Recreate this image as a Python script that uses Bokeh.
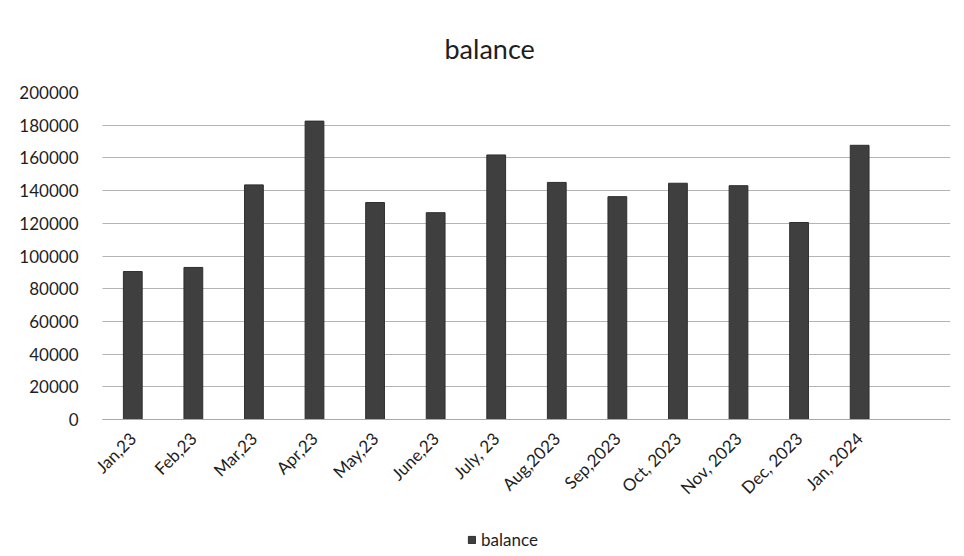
import math
from bokeh.plotting import figure
from bokeh.models import (ColumnDataSource, Range1d, FixedTicker, Legend, LegendItem)
from bokeh.embed import file_html
from bokeh.resources import INLINE

# ---- data ----
categories = ["Jan,23", "Feb,23", "Mar,23", "Apr,23", "May,23", "June,23", "July, 23",
              "Aug,2023", "Sep,2023", "Oct, 2023", "Nov, 2023", "Dec, 2023", "Jan, 2024"]
balance = [90500, 93000, 143500, 182500, 132700, 126500, 161800,
           145000, 136300, 144500, 143000, 120500, 167700]
y_ticks = [0, 20000, 40000, 60000, 80000, 100000, 120000, 140000, 160000, 180000, 200000]
n_slots = 14  # the source chart keeps one empty category slot on the right

positions = [i + 0.5 for i in range(len(categories))]
src = ColumnDataSource(dict(x=positions, top=balance, cat=categories))

FONT = "Lato"

# layout in pixels: value axis 200000 at y=92, 0 at y=419; the frame reaches
# down to y=552 so the category labels and the legend sit inside it.
# Plot area (gridlines) spans x=102..950; the frame starts a little further left
# so the first rotated label is not clipped.
TOP_PX, ZERO_PX, BOTTOM_PX = 92, 419, 552
AREA_L, AREA_R, FRAME_L = 102, 950, 84
y_max = max(y_ticks)
y_min = -(BOTTOM_PX - ZERO_PX) * y_max / (ZERO_PX - TOP_PX)
x_min = -(AREA_L - FRAME_L) * n_slots / (AREA_R - AREA_L)

p = figure(width=964, height=556, output_backend="svg", toolbar_location=None,
           x_range=Range1d(x_min, n_slots), y_range=Range1d(y_min, y_max),
           min_border_left=FRAME_L, min_border_right=964 - AREA_R, min_border_top=TOP_PX,
           min_border_bottom=556 - BOTTOM_PX)
p.outline_line_color = None
p.background_fill_color = "white"
p.border_fill_color = "white"

r = p.vbar(x="x", top="top", width=0.31, source=src,
           fill_color="#3f3f3f", line_color="#2e2e2e", line_width=1)

# title
p.title.text = "balance"
p.title.align = "left"
p.title.offset = 360
p.title.standoff = 56
p.title.text_font = FONT
p.title.text_font_size = "27px"
p.title.text_font_style = "normal"
p.title.text_color = "#1e1e1e"

# x axis drawn at value 0
p.xaxis.fixed_location = 0
p.xaxis.bounds = (0, n_slots)
p.xaxis.ticker = FixedTicker(ticks=positions)
p.xaxis.major_label_overrides = {pos: c for pos, c in zip(positions, categories)}
p.xaxis.major_label_orientation = math.pi / 4
p.xaxis.major_tick_line_color = None
p.xaxis.minor_tick_line_color = None
p.xaxis.axis_line_color = "#a8a8a8"
p.xaxis.major_label_text_font = FONT
p.xaxis.major_label_text_font_size = "17px"
p.xaxis.major_label_text_color = "#1e1e1e"
p.xaxis.major_label_standoff = 10

# y axis
p.yaxis.ticker = FixedTicker(ticks=y_ticks)
p.yaxis.axis_line_color = None
p.yaxis.major_tick_line_color = None
p.yaxis.minor_tick_line_color = None
p.yaxis.major_label_text_font = FONT
p.yaxis.major_label_text_font_size = "17px"
p.yaxis.major_label_text_color = "#1e1e1e"
p.yaxis.major_label_standoff = 18 - (AREA_L - FRAME_L)
p.yaxis.formatter.use_scientific = False

p.xgrid.grid_line_color = None
p.ygrid.grid_line_color = "#b4b4b4"
p.ygrid.grid_line_width = 1
p.ygrid.bounds = (0, y_max)
p.ygrid.cross_bounds = (0, n_slots)

legend = Legend(items=[LegendItem(label="balance", renderers=[r])],
                location=(467 - FRAME_L, 2), orientation="horizontal",
                glyph_width=9, glyph_height=9, label_text_font=FONT,
                label_text_font_size="17px", label_text_color="#1e1e1e",
                border_line_color=None, background_fill_alpha=0,
                padding=0, margin=0, spacing=0, label_standoff=5)
p.add_layout(legend, "center")

open("out.html", "w").write(file_html(p, INLINE))
